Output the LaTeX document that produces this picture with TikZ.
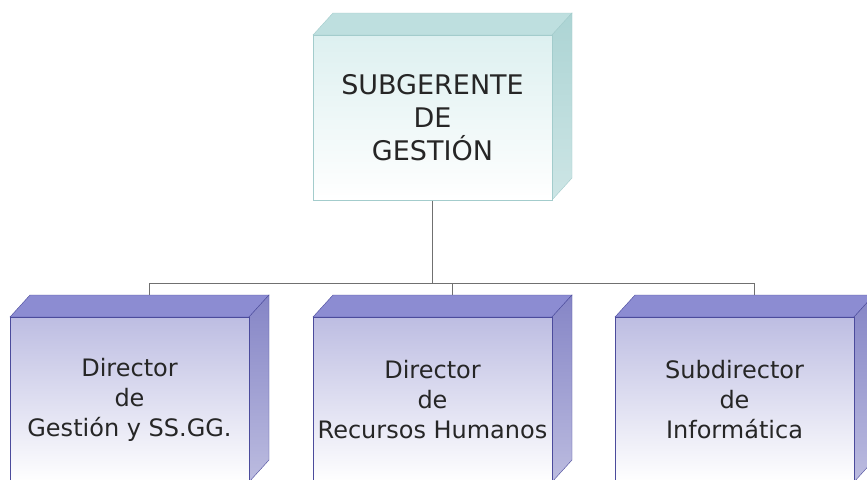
\documentclass[tikz,border=0pt]{standalone}
\usepackage{fontspec}
\setmainfont{DejaVu Sans}
\usepackage{tikz}

\definecolor{cianfrente}{HTML}{DDF0F0}
\definecolor{ciantapa}{HTML}{BEDFDF}
\definecolor{cianlado}{HTML}{ACD4D4}
\definecolor{cianborde}{HTML}{A3CCCC}
\definecolor{lilafrente}{HTML}{BDBDE2}
\definecolor{lilatapa}{HTML}{8C8CD2}
\definecolor{lilalado}{HTML}{8585C6}
\definecolor{lilaborde}{HTML}{4B4B9C}
\definecolor{gris}{HTML}{707070}

\begin{document}
\begin{tikzpicture}[x=1pt,y=-1pt,
        jefe/.style={rectangle, draw=cianborde, line width=1pt, top color=cianfrente, bottom color=white,
                     minimum width=239pt, minimum height=165pt, align=center, text=black!85,
                     font=\fontsize{27}{33}\selectfont},
        cargo/.style={rectangle, draw=lilaborde, line width=1pt, top color=lilafrente, bottom color=white,
                      minimum width=239pt, minimum height=165pt, align=center, text=black!85,
                      font=\fontsize{24}{30}\selectfont},
        linea/.style={draw=gris, line width=0.9pt}]
        \useasboundingbox [fill=white] (0,0) rectangle (867,479);
        % caras laterales
        \fill [ciantapa, draw=cianborde] (313,35) -- (333,13) -- (572,13) -- (552,35) -- cycle;
        \shade [top color=cianlado, bottom color=cianlado!60, draw=cianborde] (552,35) -- (572,13) -- (572,178) -- (552,200) -- cycle;
        \foreach \xa in {10,313,615} {
            \fill [lilatapa, draw=lilaborde] (\xa,317) -- (\xa+20,295) -- (\xa+259,295) -- (\xa+239,317) -- cycle;
            \shade [top color=lilalado, bottom color=lilalado!55, draw=lilaborde] (\xa+239,317) -- (\xa+259,295) -- (\xa+259,460) -- (\xa+239,482) -- cycle;
        }
        \node [jefe]  (sub)     at (432.5,117.5) {SUBGERENTE\\DE\\GESTIÓN};
        \node [cargo] (dirgest) at (129.5,399.5) {Director\\de\\Gestión y SS.GG.};
        \node [cargo] (dirrh)   at (432.5,399.5) {Director\\de\\Recursos Humanos};
        \node [cargo] (subinf)  at (734.5,399.5) {Subdirector\\de\\Informática};
        \coordinate (bus) at (432.5,283);
        \coordinate (dirgest-top) at (149.5,295);
        \coordinate (dirrh-top)   at (452.5,295);
        \coordinate (subinf-top)  at (754.5,295);
        \draw [linea] (sub.south) -- (bus);
        \draw [linea] (bus) -| (dirgest-top);
        \draw [linea] (bus) -| (subinf-top);
        \draw [linea] (bus -| dirrh-top) -- (dirrh-top);
    \end{tikzpicture}
\end{document}
